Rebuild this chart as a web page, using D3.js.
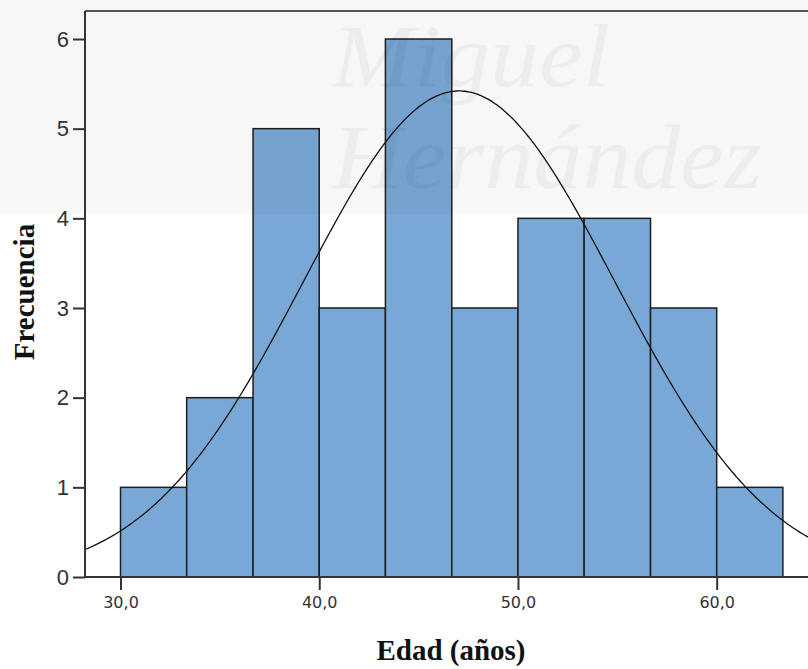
<!DOCTYPE html>
<html lang="es">
<head>
<meta charset="UTF-8">
<title>Histograma Edad</title>
<style>
  body { margin: 0; background: #fff; }
  svg { display: block; }
</style>
</head>
<body>
<script src="https://d3js.org/d3.v7.min.js"></script>
<script>
// datos del histograma
var binEdges = [30, 33.33, 36.67, 40, 43.33, 46.67, 50, 53.33, 56.67, 60, 63.33];
var counts = [1, 2, 5, 3, 6, 3, 4, 4, 3, 1];
var xTicks = [30, 40, 50, 60];
var yTicks = [0, 1, 2, 3, 4, 5, 6];
// curva normal ajustada
var curveMean = 47.04;
var curveSd = 7.85;
var curveN = 32;

var W = 808, H = 669;
var svg = d3.select("body").append("svg").attr("width", W).attr("height", H);

// escalas
var x = d3.scaleLinear().domain([30, 60]).range([120.5, 716.7]);
var y = d3.scaleLinear().domain([0, 6]).range([577, 39]);
var plotLeft = 85, plotRight = 812, plotTop = 11, plotBottom = 577;

// barras
var bars = counts.map(function(c, i){ return {x0: binEdges[i], x1: binEdges[i+1], n: c}; });
svg.selectAll("rect.bar").data(bars).enter().append("rect")
  .attr("class", "bar")
  .attr("x", function(d){ return x(d.x0); })
  .attr("y", function(d){ return y(d.n); })
  .attr("width", function(d){ return x(d.x1) - x(d.x0); })
  .attr("height", function(d){ return y(0) - y(d.n); })
  .attr("fill", "#79a8d6")
  .attr("stroke", "#1e1e1e")
  .attr("stroke-width", 1.5);

// curva normal
var xDom = [x.invert(plotLeft), x.invert(plotRight)];
var pts = d3.range(xDom[0], xDom[1] + 0.1, 0.1).map(function(v){
  var z = (v - curveMean) / curveSd;
  return [v, curveN * (10/3) / (curveSd * Math.sqrt(2 * Math.PI)) * Math.exp(-z*z/2)];
});
svg.append("path").datum(pts)
  .attr("d", d3.line().x(function(d){ return x(d[0]); }).y(function(d){ return y(d[1]); }).curve(d3.curveBasis))
  .attr("fill", "none").attr("stroke", "#111").attr("stroke-width", 1.3);

// marca de agua
var wm = svg.append("g");
wm.append("rect").attr("x", 0).attr("y", 0).attr("width", W).attr("height", 214)
  .attr("fill", "#000").attr("opacity", 0.03);
wm.append("text").attr("x", 332).attr("y", 86).text("Miguel")
  .attr("font-family", "Liberation Serif").attr("font-style", "italic")
  .attr("font-size", 88).attr("textLength", 278).attr("lengthAdjust", "spacingAndGlyphs")
  .attr("fill", "#000").attr("opacity", 0.035);
wm.append("text").attr("x", 332).attr("y", 188).text("Hernández")
  .attr("font-family", "Liberation Serif").attr("font-style", "italic")
  .attr("font-size", 92).attr("textLength", 430).attr("lengthAdjust", "spacingAndGlyphs")
  .attr("fill", "#000").attr("opacity", 0.035);

// marco superior
svg.append("line").attr("x1", plotLeft).attr("x2", plotRight).attr("y1", plotTop).attr("y2", plotTop)
  .attr("stroke", "#222").attr("stroke-width", 1.5);

// eje y
var yAxis = svg.append("g").attr("transform", "translate(" + plotLeft + ",0)")
  .call(d3.axisLeft(y).tickValues(yTicks).tickSize(12).tickPadding(4).tickFormat(d3.format("d")));
yAxis.select(".domain").remove();
yAxis.append("line").attr("y1", plotTop).attr("y2", plotBottom).attr("stroke", "#333").attr("stroke-width", 2);
yAxis.selectAll(".tick line").attr("stroke", "#333").attr("stroke-width", 2);
yAxis.selectAll("text").attr("font-family", "Liberation Sans").attr("font-size", 22).attr("fill", "#333");

// eje x
var xAxis = svg.append("g").attr("transform", "translate(0," + plotBottom + ")")
  .call(d3.axisBottom(x).tickValues(xTicks).tickSize(13).tickPadding(7)
    .tickFormat(function(d){ return d3.format(".1f")(d).replace(".", ","); }));
xAxis.select(".domain").remove();
xAxis.append("line").attr("x1", plotLeft).attr("x2", plotRight).attr("stroke", "#333").attr("stroke-width", 2);
xAxis.selectAll(".tick line").attr("stroke", "#333").attr("stroke-width", 2);
xAxis.selectAll("text").attr("font-family", "DejaVu Sans").attr("font-size", 16).attr("fill", "#333");

// titulos
svg.append("text").attr("x", 451).attr("y", 660).attr("text-anchor", "middle")
  .attr("font-family", "Liberation Serif").attr("font-weight", "bold").attr("font-size", 29)
  .attr("fill", "#111").text("Edad (años)");
svg.append("text").attr("transform", "translate(34,292) rotate(-90)").attr("text-anchor", "middle")
  .attr("font-family", "Liberation Serif").attr("font-weight", "bold").attr("font-size", 29)
  .attr("fill", "#111").text("Frecuencia");
</script>
</body>
</html>
